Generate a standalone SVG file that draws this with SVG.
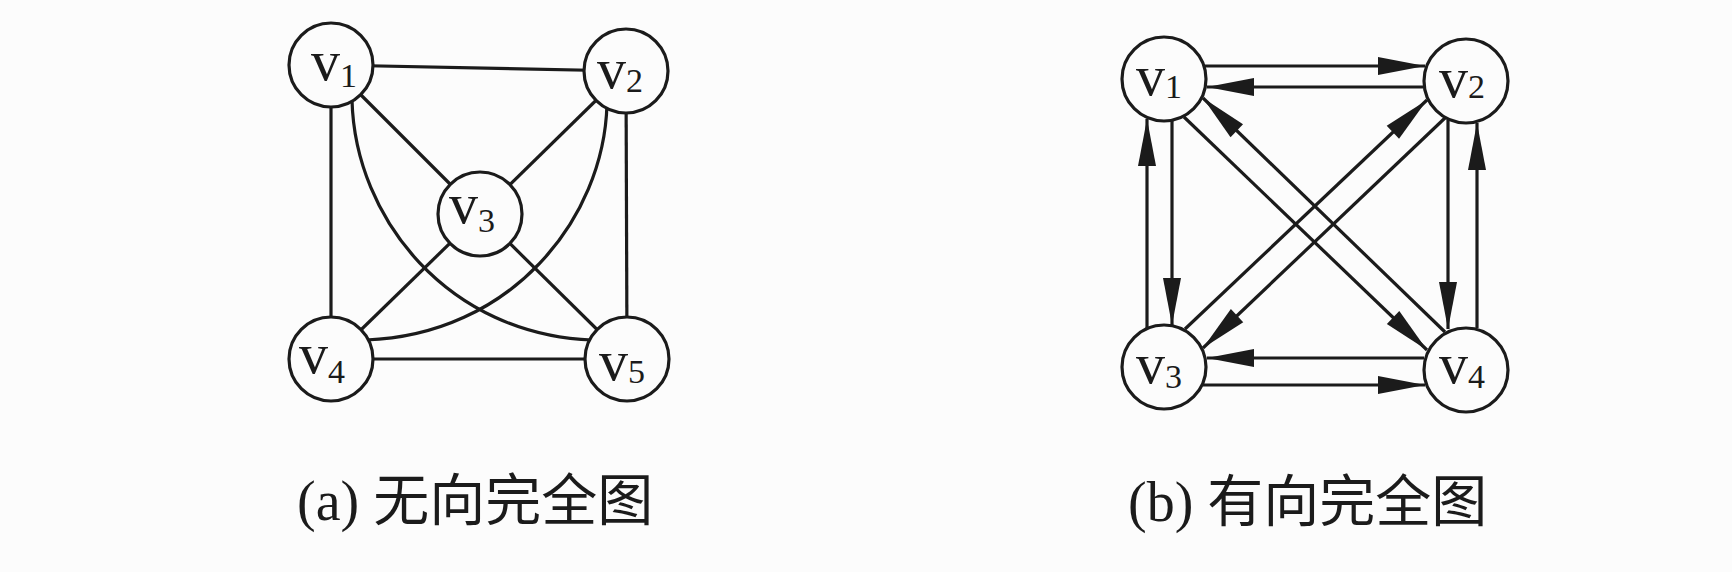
<svg xmlns="http://www.w3.org/2000/svg" width="1732" height="572" viewBox="0 0 1732 572">
<style>
.edge{fill:none;stroke:#1b1b1b;stroke-width:3.2;stroke-linecap:butt}
.arr{marker-end:url(#ah)}
.node{fill:#fcfcfc;stroke:#1b1b1b;stroke-width:3.2}
.lbl{font-family:'Liberation Serif','Times New Roman',serif;font-size:58px;fill:#1b1b1b}
.sub{font-size:34px}
.cap{font-family:'Liberation Serif','Noto Sans CJK SC',serif;font-size:56px;fill:#1b1b1b}
</style>
<defs>
<marker id="ah" markerUnits="userSpaceOnUse" markerWidth="50" markerHeight="20" refX="47" refY="9" orient="auto" overflow="visible">
<path d="M0,0 L47,9 L0,18 Z" fill="#1b1b1b"/>
</marker>
</defs>
<rect x="0" y="0" width="1732" height="572" fill="#fcfcfc"/>

<g id="connectors-a">
<line class="edge" x1="331" y1="65" x2="626" y2="71"/>
<line class="edge" x1="331" y1="65" x2="331" y2="359"/>
<line class="edge" x1="626" y1="71" x2="627" y2="359"/>
<line class="edge" x1="331" y1="359" x2="627" y2="359"/>
<line class="edge" x1="331" y1="65" x2="480" y2="214"/>
<line class="edge" x1="626" y1="71" x2="480" y2="214"/>
<line class="edge" x1="480" y1="214" x2="331" y2="359"/>
<line class="edge" x1="480" y1="214" x2="627" y2="359"/>
<path class="edge" d="M352,100 C355,220 450,335 592,340"/>
<path class="edge" d="M607,104 C604,220 510,335 366,340"/>
</g>

<g id="a-v1"><circle class="node" cx="331" cy="65" r="42"/><text class="lbl" x="311" y="80">v<tspan class="sub" dy="7">1</tspan></text></g>
<g id="a-v2"><circle class="node" cx="626" cy="71" r="42"/><text class="lbl" x="597" y="88">v<tspan class="sub" dy="4">2</tspan></text></g>
<g id="a-v3"><circle class="node" cx="480" cy="214" r="42"/><text class="lbl" x="449" y="223">v<tspan class="sub" dy="9">3</tspan></text></g>
<g id="a-v4"><circle class="node" cx="331" cy="359" r="42"/><text class="lbl" x="299" y="373">v<tspan class="sub" dy="10">4</tspan></text></g>
<g id="a-v5"><circle class="node" cx="627" cy="359" r="42"/><text class="lbl" x="599" y="380">v<tspan class="sub" dy="3">5</tspan></text></g>

<g id="caption-a"><text class="cap" x="297" y="520">(a) 无向完全图</text></g>

<g id="b-v1"><circle class="node" cx="1164" cy="79" r="42"/><text class="lbl" x="1136" y="95">v<tspan class="sub" dy="3">1</tspan></text></g>
<g id="b-v2"><circle class="node" cx="1466" cy="81" r="42"/><text class="lbl" x="1439" y="97">v<tspan class="sub" dy="1">2</tspan></text></g>
<g id="b-v3"><circle class="node" cx="1164" cy="367" r="42"/><text class="lbl" x="1136" y="383">v<tspan class="sub" dy="5">3</tspan></text></g>
<g id="b-v4"><circle class="node" cx="1466" cy="370" r="42"/><text class="lbl" x="1439" y="383">v<tspan class="sub" dy="5">4</tspan></text></g>

<g id="connectors-b">
<line class="edge arr" x1="1204" y1="66" x2="1425" y2="66"/>
<line class="edge arr" x1="1423" y1="87" x2="1207" y2="87"/>
<line class="edge arr" x1="1424" y1="358" x2="1207" y2="358"/>
<line class="edge arr" x1="1203" y1="385" x2="1425" y2="385"/>
<line class="edge arr" x1="1147" y1="328" x2="1147" y2="119"/>
<line class="edge arr" x1="1172" y1="121" x2="1172" y2="325"/>
<line class="edge arr" x1="1448" y1="120" x2="1448" y2="329"/>
<line class="edge arr" x1="1477" y1="328" x2="1477" y2="123"/>
<line class="edge arr" x1="1184" y1="117" x2="1427" y2="350"/>
<line class="edge arr" x1="1445" y1="332" x2="1203" y2="98"/>
<line class="edge arr" x1="1185" y1="329" x2="1427" y2="100"/>
<line class="edge arr" x1="1445" y1="118" x2="1203" y2="348"/>
</g>

<g id="caption-b"><text class="cap" x="1128" y="521">(b) 有向完全图</text></g>
</svg>
